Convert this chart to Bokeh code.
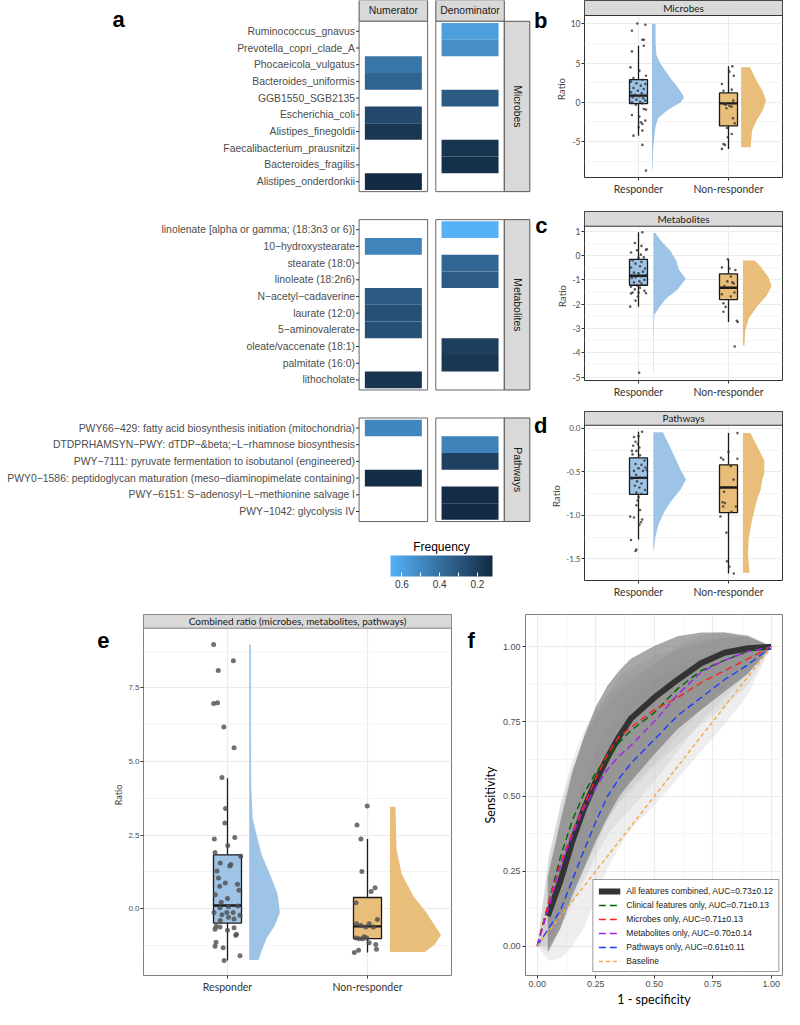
import numpy as np
from bokeh.plotting import figure
from bokeh.models import (Range1d, FixedTicker, ColorBar, LinearColorMapper,
                          CustomJSTickFormatter, Legend, LegendItem, ColumnDataSource,
                          PrintfTickFormatter)
from bokeh.layouts import row, column
from bokeh.core.properties import value
from bokeh.embed import file_html
from bokeh.resources import INLINE

# ---------------- Panel a data (frequency of features, None = absent)
microbes = ["Ruminococcus_gnavus", "Prevotella_copri_clade_A", "Phocaeicola_vulgatus",
            "Bacteroides_uniformis", "GGB1550_SGB2135", "Escherichia_coli",
            "Alistipes_finegoldii", "Faecalibacterium_prausnitzii", "Bacteroides_fragilis",
            "Alistipes_onderdonkii"]
microbes_num = [None, None, 0.42, 0.35, None, 0.24, 0.17, None, None, 0.12]
microbes_den = [0.58, 0.52, None, None, 0.31, None, None, 0.16, 0.14, None]

metabolites = ["linolenate [alpha or gamma; (18:3n3 or 6)]", "10\u2212hydroxystearate",
               "stearate (18:0)", "linoleate (18:2n6)", "N\u2212acetyl\u2212cadaverine",
               "laurate (12:0)", "5\u2212aminovalerate", "oleate/vaccenate (18:1)",
               "palmitate (16:0)", "lithocholate"]
metabolites_num = [None, 0.48, None, None, 0.31, 0.27, 0.27, None, None, 0.16]
metabolites_den = [0.66, None, 0.36, 0.32, None, None, None, 0.20, 0.17, None]

pathways = ["PWY66\u2212429: fatty acid biosynthesis initiation (mitochondria)",
            "DTDPRHAMSYN\u2212PWY: dTDP\u2212&beta;\u2212L\u2212rhamnose biosynthesis",
            "PWY\u22127111: pyruvate fermentation to isobutanol (engineered)",
            "PWY0\u22121586: peptidoglycan maturation (meso\u2212diaminopimelate containing)",
            "PWY\u22126151: S\u2212adenosyl\u2212L\u2212methionine salvage I",
            "PWY\u22121042: glycolysis IV"]
pathways_num = [0.49, None, None, 0.13, None, None]
pathways_den = [None, 0.47, 0.21, None, 0.13, 0.12]

freq_ticks = [0.6, 0.5, 0.4, 0.3, 0.2]
freq_low, freq_high = 0.12, 0.66

# ---------------- Raincloud data
categories = ["Responder", "Non-responder"]

b_resp_vals = [10.04, 9.87, 9.11, 7.97, 7.97, 7.20, 6.48, 4.45, 4.03, 3.39, 3.09, 2.88, 2.63, 2.42,
               2.33, 2.12, 1.82, 1.69, 1.48, 1.27, 1.14, 0.97, 0.93, 0.76, 0.64, 0.51, 0.34, 0.21,
               0.08, 0.0, -0.13, -0.30, -0.85, -0.93, -1.61, -1.82, -2.33, -2.54, -2.75, -3.18,
               -3.60, -4.24, -5.42, -8.69]
b_resp_jit = [-0.013, 0.076, -0.073, 0.043, 0.059, 0.059, -0.073, -0.089, 0.010, 0.083, -0.056,
              0.043, -0.083, -0.023, 0.076, 0.026, -0.056, 0.059, -0.007, -0.083, 0.036, -0.040,
              0.092, 0.010, -0.063, 0.053, -0.023, 0.076, 0.017, -0.073, 0.043, -0.030, 0.059,
              0.083, -0.073, 0.010, 0.076, 0.026, 0.043, 0.003, 0.043, -0.056, 0.043, 0.083]
b_non_vals = [4.58, 3.90, 3.39, 2.33, 1.61, 1.48, 0.21, -0.21, -0.30, -0.47, -0.55, -0.76, -2.03,
              -2.67, -3.26, -4.03, -4.45, -5.30, -5.42, -5.93]
b_non_jit = [0.043, 0.010, 0.059, -0.073, 0.036, -0.056, 0.053, -0.050, -0.030, 0.010, 0.033,
             -0.023, 0.050, 0.069, -0.017, 0.036, -0.007, -0.056, -0.040, -0.073]
b_resp_box = [-4.24, -0.17, 0.85, 2.88, 7.20]
b_non_box = [-5.93, -3.00, -0.13, 1.20, 4.58]
b_resp_vy = [10.0, 7.5, 6.0, 5.0, 4.0, 3.0, 2.0, 1.0, 0.6, 0.0, -1.0, -2.0, -3.0, -4.0, -6.0, -8.7]
b_resp_vw = [0.04, 0.04, 0.05, 0.09, 0.15, 0.21, 0.28, 0.34, 0.355, 0.32, 0.17, 0.07, 0.04, 0.03,
             0.012, 0.005]
b_non_vy = [4.45, 2.75, 1.48, 0.21, -1.06, -2.33, -3.6, -4.87, -5.72]
b_non_vw = [0.099, 0.172, 0.238, 0.277, 0.238, 0.172, 0.122, 0.112, 0.106]

c_resp_vals = [0.96, 0.52, 0.40, 0.24, 0.26, 0.13, 0.22, 0.04, -0.07, -0.09, -0.20, -0.26, -0.33,
               -0.44, -0.49, -0.53, -0.66, -0.70, -0.73, -0.79, -0.86, -0.89, -0.92, -0.99, -1.06,
               -1.10, -1.15, -1.23, -1.28, -1.32, -1.39, -1.45, -1.52, -1.52, -1.56, -1.55, -1.68,
               -1.85, -2.10, -4.82]
c_resp_jit = [0.043, -0.040, 0.033, 0.083, 0.092, -0.083, -0.017, 0.026, 0.059, 0.0, -0.066,
              0.033, -0.033, 0.017, -0.083, 0.073, 0.050, -0.050, 0.0, 0.092, 0.033, -0.033,
              -0.073, 0.066, 0.010, -0.050, 0.033, -0.017, -0.083, 0.017, -0.040, 0.066, -0.066,
              0.0, -0.083, 0.083, -0.007, -0.033, -0.092, 0.007]
c_non_vals = [-0.15, -0.49, -0.53, -0.59, -0.86, -1.06, -1.10, -1.15, -1.25, -1.32, -1.52, -1.59,
              -1.68, -1.96, -2.11, -2.31, -2.68, -2.73, -3.74]
c_non_jit = [-0.007, -0.073, 0.010, 0.076, 0.026, -0.013, 0.043, 0.059, -0.046, 0.020, 0.066,
             -0.073, 0.026, -0.056, -0.033, -0.056, 0.092, 0.102, 0.069]
c_resp_box = [-2.10, -1.22, -0.83, -0.15, 0.96]
c_non_box = [-2.73, -1.81, -1.32, -0.75, -0.15]
c_resp_vy = [0.93, 0.59, 0.2, -0.2, -0.59, -0.95, -1.39, -1.78, -2.18, -2.44, -3.5, -4.85]
c_resp_vw = [0.023, 0.089, 0.188, 0.254, 0.287, 0.36, 0.27, 0.139, 0.056, 0.01, 0.004, 0.004]
c_non_vy = [-0.2, -0.46, -0.86, -1.25, -1.65, -2.05, -2.58, -3.1, -3.7]
c_non_vw = [0.132, 0.198, 0.28, 0.32, 0.264, 0.165, 0.066, 0.026, 0.017]

d_resp_vals = [-0.04, -0.09, -0.10, -0.155, -0.18, -0.20, -0.22, -0.26, -0.26, -0.30, -0.31, -0.37,
               -0.41, -0.42, -0.45, -0.46, -0.49, -0.49, -0.48, -0.535, -0.565, -0.57, -0.58,
               -0.61, -0.635, -0.66, -0.68, -0.71, -0.74, -0.755, -0.79, -0.83, -0.885, -0.94,
               -1.015, -1.025, -1.05, -1.08, -1.11, -1.285, -1.395, -1.41]
d_resp_jit = [0.040, 0.0, -0.050, -0.033, -0.007, -0.059, 0.010, -0.073, -0.023, -0.066, 0.017,
              0.066, -0.033, 0.033, 0.076, 0.0, -0.050, 0.050, 0.092, -0.026, 0.017, 0.066, -0.073,
              -0.017, 0.033, -0.040, 0.010, 0.073, -0.023, 0.033, 0.0, -0.010, -0.023, 0.017,
              -0.092, -0.050, 0.040, 0.026, 0.010, -0.083, -0.023, -0.033]
d_non_vals = [-0.055, -0.27, -0.34, -0.36, -0.35, -0.435, -0.59, -0.73, -0.85, -0.86, -0.90, -0.90,
              -0.96, -1.015, -1.20, -1.53, -1.59, -1.67]
d_non_jit = [0.099, 0.0, -0.083, -0.059, 0.099, 0.026, 0.056, -0.050, -0.066, -0.040, -0.059,
             0.083, 0.033, -0.089, -0.023, -0.017, 0.010, 0.059]
d_resp_box = [-1.28, -0.76, -0.57, -0.34, -0.04]
d_non_box = [-1.67, -0.97, -0.68, -0.42, -0.055]
d_resp_vy = [-0.044, -0.185, -0.33, -0.48, -0.59, -0.7, -0.85, -0.96, -1.11, -1.25, -1.4]
d_resp_vw = [0.106, 0.172, 0.238, 0.304, 0.363, 0.304, 0.188, 0.122, 0.056, 0.023, 0.007]
d_non_vy = [-0.055, -0.22, -0.37, -0.52, -0.59, -0.7, -0.85, -1.07, -1.25, -1.44, -1.66]
d_non_vw = [0.083, 0.165, 0.238, 0.238, 0.215, 0.198, 0.149, 0.099, 0.066, 0.056, 0.073]

e_resp_vals = [8.98, 8.42, 8.09, 6.97, 7.00, 6.17, 5.47, 4.46, 3.40, 2.91, 2.37, 2.42, 2.15, 1.91,
               1.78, 1.55, 1.50, 1.45, 1.28, 1.04, 0.87, 0.83, 0.76, 0.63, 0.47, 0.35, 0.22, 0.03,
               0.07, 0.09, -0.13, -0.13, -0.13, -0.29, -0.21, -0.22, -0.40, -0.35, -0.60, -0.62,
               -0.70, -0.65, -0.73, -0.87, -0.91, -1.14, -1.28, -1.33, -1.60, -1.76]
e_resp_jit = [-0.099, 0.042, -0.066, -0.099, -0.071, -0.026, 0.047, -0.040, -0.014, -0.019,
              -0.094, 0.052, 0.002, -0.089, 0.094, -0.052, 0.024, 0.016, -0.075, -0.064, -0.016,
              0.071, -0.056, 0.082, -0.087, 0.0, -0.045, -0.054, 0.007, 0.073, -0.096, -0.005,
              0.040, 0.007, -0.040, 0.089, -0.052, 0.047, -0.082, -0.054, -0.089, 0.047, 0.0,
              0.064, 0.059, -0.082, -0.089, -0.031, 0.089, -0.024]
e_non_vals = [3.49, 2.84, 2.37, 1.26, 0.71, 0.58, 0.20, -0.37, -0.51, -0.57, -0.51, -0.62, -0.62,
              -0.95, -1.00, -1.02, -1.02, -1.00, -1.16, -1.22, -1.38, -1.41, -1.49]
e_non_jit = [-0.002, -0.075, -0.047, -0.040, 0.054, 0.026, -0.082, 0.071, -0.078, -0.047, 0.012,
             -0.012, 0.042, -0.024, -0.005, -0.035, -0.059, -0.082, 0.012, 0.059, 0.064, -0.064,
             -0.094]
e_resp_box = [-1.76, -0.49, 0.11, 1.83, 4.43]
e_non_box = [-1.49, -1.02, -0.60, 0.38, 2.37]
e_resp_vy = [8.97, 6.0, 4.2, 3.1, 2.48, 1.83, 1.17, 0.52, -0.13, -0.57, -1.0, -1.43, -1.74]
e_resp_vw = [0.012, 0.012, 0.014, 0.024, 0.054, 0.089, 0.148, 0.202, 0.219, 0.183, 0.125, 0.089,
             0.066]
e_non_vy = [3.46, 2.04, 1.17, 0.41, -0.13, -0.89, -1.22, -1.47]
e_non_vw = [0.04, 0.047, 0.085, 0.17, 0.26, 0.365, 0.32, 0.25]

# ---------------- Panel f data (ROC curves)
fpr = [0, 0.05, 0.1, 0.15, 0.2, 0.25, 0.3, 0.35, 0.4, 0.5, 0.6, 0.7, 0.8, 0.9, 1.0]
comb_x = [0.045, 0.1, 0.15, 0.2, 0.25, 0.3, 0.35, 0.4, 0.5, 0.6, 0.7, 0.8, 0.9, 1.0]
comb_y = [0.10, 0.22, 0.35, 0.46, 0.55, 0.63, 0.70, 0.76, 0.83, 0.89, 0.945, 0.98, 0.995, 1.0]
comb_lo = [-0.02, 0.06, 0.17, 0.26, 0.35, 0.43, 0.50, 0.55, 0.64, 0.725, 0.79, 0.85, 0.91, 1.0]
comb_hi = [0.23, 0.42, 0.58, 0.70, 0.80, 0.87, 0.92, 0.96, 1.003, 1.035, 1.048, 1.048, 1.035, 1.003]
clin_y = [0, 0.15, 0.30, 0.42, 0.51, 0.58, 0.63, 0.68, 0.72, 0.78, 0.86, 0.92, 0.955, 0.985, 1.0]
clin_lo = [0, 0.0, 0.1, 0.2, 0.28, 0.35, 0.42, 0.48, 0.53, 0.61, 0.70, 0.79, 0.86, 0.93, 1.0]
clin_hi = [0, 0.3, 0.48, 0.62, 0.72, 0.79, 0.84, 0.87, 0.9, 0.94, 0.99, 1.02, 1.03, 1.03, 1.0]
micro_y = [0, 0.15, 0.28, 0.38, 0.47, 0.56, 0.64, 0.70, 0.73, 0.79, 0.83, 0.88, 0.92, 0.96, 1.0]
micro_lo = [0, 0.0, 0.08, 0.16, 0.25, 0.33, 0.42, 0.48, 0.52, 0.60, 0.67, 0.74, 0.80, 0.87, 1.0]
micro_hi = [0, 0.3, 0.47, 0.6, 0.69, 0.77, 0.84, 0.9, 0.93, 0.97, 0.99, 1.01, 1.03, 1.04, 1.0]
metab_y = [0, 0.13, 0.27, 0.37, 0.46, 0.53, 0.59, 0.635, 0.67, 0.75, 0.84, 0.915, 0.955, 0.985, 1.0]
metab_lo = [0, -0.02, 0.06, 0.14, 0.22, 0.3, 0.37, 0.42, 0.46, 0.55, 0.65, 0.75, 0.83, 0.91, 1.0]
metab_hi = [0, 0.28, 0.46, 0.59, 0.69, 0.76, 0.81, 0.85, 0.88, 0.94, 1.0, 1.04, 1.05, 1.04, 1.0]
path_y = [0, 0.06, 0.12, 0.22, 0.32, 0.415, 0.50, 0.56, 0.61, 0.69, 0.77, 0.83, 0.89, 0.94, 1.0]
path_lo = [0, -0.05, -0.04, 0.0, 0.06, 0.16, 0.26, 0.33, 0.39, 0.47, 0.56, 0.65, 0.74, 0.84, 1.0]
path_hi = [0, 0.17, 0.28, 0.42, 0.55, 0.65, 0.73, 0.78, 0.83, 0.89, 0.94, 0.97, 0.99, 1.0, 1.0]
base_x = [0, 1]
base_y = [0, 1]
roc_labels = ["All features combined, AUC=0.73\u00b10.12", "Clinical features only, AUC=0.71\u00b10.13",
              "Microbes only, AUC=0.71\u00b10.13", "Metabolites only, AUC=0.70\u00b10.14",
              "Pathways only, AUC=0.61\u00b10.11", "Baseline"]

# ======================================================================
LIB = "Liberation Sans"
HUM = "Lato"


def bare_figure(width, height):
    p = figure(width=width, height=height, x_range=Range1d(0, width),
               y_range=Range1d(height, 0), output_backend="svg", toolbar_location=None,
               min_border=0, x_axis_location=None, y_axis_location=None)
    p.outline_line_color = None
    p.background_fill_color = None
    p.border_fill_color = None
    p.grid.grid_line_color = None
    p.xgrid.visible = False
    p.ygrid.visible = False
    return p


def add_letter(p, x, y, letter, align="left"):
    p.text(x=[x], y=[y], text=[letter], text_font=value(LIB), text_font_size=value("22px"),
           text_font_style="bold", text_baseline="alphabetic", text_align=align,
           text_color="black")


# ---------------- Panel a: heatmap
def hex2rgb(h):
    return tuple(int(h[i:i + 2], 16) for i in (1, 3, 5))

light, dark = hex2rgb("#56B1F7"), hex2rgb("#132B43")
palette = ["#%02x%02x%02x" % tuple(int(round(l + (d - l) * t)) for l, d in zip(light, dark))
           for t in np.linspace(0, 1, 256)]
mapper = LinearColorMapper(palette=palette, low=-freq_high, high=-freq_low)

pa = figure(width=548, height=600, x_range=Range1d(0, 548), y_range=Range1d(602, 2),
            output_backend="svg", toolbar_location=None, min_border=0,
            x_axis_location=None, y_axis_location=None)
pa.outline_line_color = None
pa.background_fill_color = None
pa.border_fill_color = None
pa.grid.grid_line_color = None
pa.xgrid.visible = False
pa.ygrid.visible = False

ROW_H = 16.7
EXPAND = 0.6
GAP = 28.0
TOP0 = 22.8
NUM_X = (358.6, 427.1)
DEN_X = (435.3, 503.8)
STRIP_X = (503.8, 529.3)
TILE_W = 57.0
LABEL_X = 354.5

groups = [("Microbes", microbes, microbes_num, microbes_den),
          ("Metabolites", metabolites, metabolites_num, metabolites_den),
          ("Pathways", pathways, pathways_num, pathways_den)]

tile = dict(x=[], y=[], neg=[])
lab = dict(x=[], y=[], text=[])
panels = dict(left=[], right=[], top=[], bottom=[])
strips = dict(left=[], right=[], top=[], bottom=[], cx=[], cy=[], text=[])
top = TOP0
num_c = (NUM_X[0] + NUM_X[1]) / 2
den_c = (DEN_X[0] + DEN_X[1]) / 2
for gname, names, nvals, dvals in groups:
    n = len(names)
    bottom = top + (n - 1 + 2 * EXPAND) * ROW_H
    for i, (nm, nv, dv) in enumerate(zip(names, nvals, dvals)):
        yy = top + (EXPAND + i) * ROW_H
        lab["x"].append(LABEL_X); lab["y"].append(yy); lab["text"].append(nm)
        if nv is not None:
            tile["x"].append(num_c); tile["y"].append(yy); tile["neg"].append(-nv)
        if dv is not None:
            tile["x"].append(den_c); tile["y"].append(yy); tile["neg"].append(-dv)
    for (l, r) in (NUM_X, DEN_X):
        panels["left"].append(l); panels["right"].append(r)
        panels["top"].append(top); panels["bottom"].append(bottom)
    strips["left"].append(STRIP_X[0]); strips["right"].append(STRIP_X[1])
    strips["top"].append(top); strips["bottom"].append(bottom)
    strips["cx"].append((STRIP_X[0] + STRIP_X[1]) / 2); strips["cy"].append((top + bottom) / 2)
    strips["text"].append(gname)
    top = bottom + GAP

hdr = dict(left=[NUM_X[0], DEN_X[0]], right=[NUM_X[1], DEN_X[1]], top=[1.7, 1.7],
           bottom=[TOP0, TOP0], cx=[num_c, den_c], cy=[(1.7 + TOP0) / 2] * 2,
           text=["Numerator", "Denominator"])
pa.quad(left="left", right="right", top="top", bottom="bottom", source=ColumnDataSource(hdr),
        fill_color="#D9D9D9", line_color="#555555", line_width=1)
pa.text(x="cx", y="cy", text="text", source=ColumnDataSource(hdr), text_align="center",
        text_baseline="middle", text_font=value(LIB), text_font_size=value("10.4px"),
        text_color="#1a1a1a")

pa.quad(left="left", right="right", top="top", bottom="bottom", source=ColumnDataSource(panels),
        fill_color="white", line_color="#666666", line_width=1)
pa.rect(x="x", y="y", width=TILE_W, height=ROW_H, source=ColumnDataSource(tile),
        fill_color={"field": "neg", "transform": mapper}, line_color=None)
pa.quad(left="left", right="right", top="top", bottom="bottom", source=ColumnDataSource(strips),
        fill_color="#D9D9D9", line_color="#555555", line_width=1)
pa.text(x="cx", y="cy", text="text", source=ColumnDataSource(strips), angle=-np.pi / 2,
        text_align="center", text_baseline="middle", text_font=value(LIB),
        text_font_size=value("10.4px"), text_color="#1a1a1a")
labsrc = ColumnDataSource(lab)
pa.text(x="x", y="y", text="text", source=labsrc, text_align="right", text_baseline="middle",
        text_font=value(LIB), text_font_size=value("10.4px"), text_color="#4d4d4d")
pa.segment(x0=[LABEL_X + 1.0] * len(lab["y"]), x1=[NUM_X[0]] * len(lab["y"]), y0=lab["y"],
           y1=lab["y"], line_color="#333333", line_width=1)
add_letter(pa, 112, 21, "a")
# panel letters of the right-hand column (b, c, d) sit just left of those panels
add_letter(pa, 547, 22, "b", align="right")
add_letter(pa, 547, 227, "c", align="right")
add_letter(pa, 547, 427, "d", align="right")
pa.text(x=[441], y=[548], text=["Frequency"], text_align="center", text_baseline="middle",
        text_font=value(LIB), text_font_size=value("12px"), text_color="black")

cbar = ColorBar(color_mapper=mapper, orientation="horizontal", width=102, height=21,
                location=(390, 10), padding=0, label_standoff=3,
                ticker=FixedTicker(ticks=[-t for t in freq_ticks]),
                formatter=CustomJSTickFormatter(code="return Math.abs(tick).toFixed(1)"),
                major_label_text_font=LIB, major_label_text_font_size="10px",
                major_label_text_color="#333333", major_tick_line_color="white",
                major_tick_in=4, major_tick_out=0, minor_tick_line_color=None,
                bar_line_color=None, background_fill_color=None, border_line_color=None)
pa.add_layout(cbar)


# ---------------- raincloud panels
BLUE_V, BLUE_B = "#9DC3E6", "#93BCE2"
ORNG_V, ORNG_B = "#E9BE7B", "#E7B76C"


def raincloud(width, height, mbl, mbr, mbt, mbb, strip_px, ylo, yhi, ticks, minor, fmt, title,
              data, pt_size, pt_color, ytick_font, ytick_size, ylab_size, border):
    frame_h = height - mbt - mbb
    plot_h = frame_h - strip_px
    ytop = yhi + strip_px * (yhi - ylo) / plot_h
    p = figure(width=width, height=height, x_range=Range1d(0.4, 2.6),
               y_range=Range1d(ylo, ytop), min_border_left=mbl, min_border_right=mbr,
               min_border_top=mbt, min_border_bottom=mbb, output_backend="svg",
               toolbar_location=None)
    p.outline_line_color = border
    p.outline_line_width = 1
    p.xgrid.grid_line_color = "#EBEBEB"
    p.xgrid.grid_line_width = 1.2
    p.ygrid.grid_line_color = "#EBEBEB"
    p.ygrid.grid_line_width = 1.2
    p.ygrid.minor_grid_line_color = "#F3F3F3"
    p.ygrid.minor_grid_line_width = 0.8
    for c, vals, jit, box, vy, vw, voff, vcol, bcol in data:
        xs = [c + voff] + [c + voff + w for w in vw] + [c + voff]
        ys = [vy[0]] + list(vy) + [vy[-1]]
        p.patch(xs, ys, fill_color=vcol, line_color=None)
        lo, q1, med, q3, hi = box
        p.segment(x0=[c, c], x1=[c, c], y0=[lo, q3], y1=[q1, hi], line_color="#1a1a1a",
                  line_width=1.3)
        p.quad(left=[c - 0.1], right=[c + 0.1], bottom=[q1], top=[q3], fill_color=bcol,
               fill_alpha=0.9, line_color="#1a1a1a", line_width=1.3)
        p.segment(x0=[c - 0.1], x1=[c + 0.1], y0=[med], y1=[med], line_color="#1a1a1a",
                  line_width=2.4)
        p.scatter(x=[c + j for j in jit], y=vals, size=pt_size, marker="circle",
                  fill_color=pt_color, line_color=None, fill_alpha=0.8)
    p.quad(left=[0.4], right=[2.6], bottom=[yhi], top=[ytop], fill_color="#D9D9D9",
           line_color=border, line_width=1)
    p.text(x=[1.5], y=[(yhi + ytop) / 2], text=[title], text_align="center",
           text_baseline="middle", text_font=value(HUM), text_font_size=value("10px"),
           text_color="#1a1a1a")
    p.xaxis.ticker = FixedTicker(ticks=[1, 2])
    p.xaxis.major_label_overrides = {1: categories[0], 2: categories[1]}
    p.xaxis.major_label_text_font = HUM
    p.xaxis.major_label_text_font_size = "10.5px"
    p.xaxis.major_label_text_color = "#333333"
    p.xaxis.major_label_standoff = 2
    p.yaxis.ticker = FixedTicker(ticks=ticks, minor_ticks=minor)
    p.yaxis.formatter = PrintfTickFormatter(format=fmt)
    p.yaxis.major_label_text_font = ytick_font
    p.yaxis.major_label_text_font_size = ytick_size
    p.yaxis.major_label_text_color = "#4d4d4d"
    p.yaxis.major_label_standoff = 1
    p.yaxis.axis_label = "Ratio"
    p.yaxis.axis_label_text_font = HUM
    p.yaxis.axis_label_text_font_style = "normal"
    p.yaxis.axis_label_text_font_size = ylab_size
    p.yaxis.axis_label_standoff = 1
    for ax in (p.xaxis, p.yaxis):
        ax.axis_line_color = None
        ax.major_tick_line_color = "#333333"
        ax.major_tick_out = 3
        ax.major_tick_in = 0
        ax.minor_tick_out = 0
        ax.minor_tick_in = 0
    return p


def grp(vals, jit, box, vy, vw, voff, which):
    c = 1 if which == 0 else 2
    vcol, bcol = (BLUE_V, BLUE_B) if which == 0 else (ORNG_V, ORNG_B)
    return (c, vals, jit, box, vy, vw, voff, vcol, bcol)


RW = 236
pb = raincloud(RW, 200, 30, 2, 0, 23, 15, -9.57, 11.05, [-5, 0, 5, 10], [-7.5, -2.5, 2.5, 7.5],
               "%d", "Microbes",
               [grp(b_resp_vals, b_resp_jit, b_resp_box, b_resp_vy, b_resp_vw, 0.15, 0),
                grp(b_non_vals, b_non_jit, b_non_box, b_non_vy, b_non_vw, 0.14, 1)],
               2.6, "#333333", HUM, "8.5px", "9.5px", "#333333")
pc = raincloud(RW, 200, 30, 2, 11, 17, 15, -5.14, 1.21, [-5, -4, -3, -2, -1, 0, 1],
               [-4.5, -3.5, -2.5, -1.5, -0.5, 0.5], "%d", "Metabolites",
               [grp(c_resp_vals, c_resp_jit, c_resp_box, c_resp_vy, c_resp_vw, 0.165, 0),
                grp(c_non_vals, c_non_jit, c_non_box, c_non_vy, c_non_vw, 0.16, 1)],
               2.6, "#333333", HUM, "8.5px", "9.5px", "#333333")
pd_ = raincloud(RW, 200, 30, 2, 11, 17, 14, -1.75, 0.035, [-1.5, -1.0, -0.5, 0.0],
                [-1.25, -0.75, -0.25], "%.1f", "Pathways",
                [grp(d_resp_vals, d_resp_jit, d_resp_box, d_resp_vy, d_resp_vw, 0.165, 0),
                 grp(d_non_vals, d_non_jit, d_non_box, d_non_vy, d_non_vw, 0.16, 1)],
                2.6, "#333333", HUM, "8px", "9.5px", "#333333")

le = bare_figure(110, 409)
add_letter(le, 109, 30, "e", align="right")
pe = raincloud(347, 409, 30, 6, 13, 27, 14, -2.27, 9.53, [0, 2.5, 5, 7.5],
               [-1.25, 1.25, 3.75, 6.25, 8.75], "%.1f",
               "Combined ratio (microbes, metabolites, pathways)",
               [grp(e_resp_vals, e_resp_jit, e_resp_box, e_resp_vy, e_resp_vw, 0.155, 0),
                grp(e_non_vals, e_non_jit, e_non_box, e_non_vy, e_non_vw, 0.16, 1)],
               5.0, "#4d4d4d", LIB, "8px", "9px", "#7f7f7f")

# ---------------- Panel f: ROC
lf = bare_figure(22, 409)
add_letter(lf, 10, 29, "f")
pf = figure(width=305, height=409, x_range=Range1d(-0.05, 1.048), y_range=Range1d(-0.0985, 1.108),
            min_border_left=40, min_border_right=2, min_border_top=14, min_border_bottom=27,
            output_backend="svg", toolbar_location=None)
pf.outline_line_color = "#7f7f7f"
for g in (pf.xgrid, pf.ygrid):
    g.grid_line_color = "#EBEBEB"
    g.grid_line_width = 1.2
    g.minor_grid_line_color = "#F3F3F3"
    g.minor_grid_line_width = 0.8
for lo_, hi_ in ((clin_lo, clin_hi), (micro_lo, micro_hi), (metab_lo, metab_hi), (path_lo, path_hi)):
    pf.varea(x=fpr, y1=lo_, y2=hi_, fill_color="#bdbdbd", fill_alpha=0.25)
pf.varea(x=comb_x, y1=comb_lo, y2=comb_hi, fill_color="#6e6e6e", fill_alpha=0.6)
r_comb = pf.line(comb_x, comb_y, line_color="#333333", line_width=6)
r_clin = pf.line(fpr, clin_y, line_color="#006400", line_width=1.4, line_dash="7 4")
r_micro = pf.line(fpr, micro_y, line_color="#FF2020", line_width=1.4, line_dash="7 4")
r_metab = pf.line(fpr, metab_y, line_color="#A020F0", line_width=1.4, line_dash="7 4")
r_path = pf.line(fpr, path_y, line_color="#1E3CFF", line_width=1.4, line_dash="7 4")
r_base = pf.line(base_x, base_y, line_color="#F5A742", line_width=1.4, line_dash="4 3")
legend = Legend(items=[LegendItem(label=l, renderers=[r]) for l, r in
                       zip(roc_labels, [r_comb, r_clin, r_micro, r_metab, r_path, r_base])],
                location="bottom_right", margin=3, padding=5, spacing=3, label_height=11,
                glyph_width=22, glyph_height=10, label_standoff=6,
                label_text_font=LIB, label_text_font_size="8.5px",
                label_text_color="#1a1a1a", border_line_color="#333333",
                background_fill_alpha=1.0)
pf.add_layout(legend)
for ax in (pf.xaxis, pf.yaxis):
    ax.ticker = FixedTicker(ticks=[0, 0.25, 0.5, 0.75, 1.0],
                            minor_ticks=[0.125, 0.375, 0.625, 0.875])
    ax.formatter = PrintfTickFormatter(format="%.2f")
    ax.major_label_text_font = LIB
    ax.major_label_text_font_size = "9px"
    ax.major_label_text_color = "#4d4d4d"
    ax.major_label_standoff = 2
    ax.axis_line_color = None
    ax.major_tick_line_color = "#333333"
    ax.major_tick_out = 3
    ax.major_tick_in = 0
    ax.minor_tick_out = 0
    ax.minor_tick_in = 0
    ax.axis_label_text_font = HUM
    ax.axis_label_text_font_style = "normal"
    ax.axis_label_text_font_size = "12.5px"
    ax.axis_label_text_color = "black"
    ax.axis_label_standoff = 2
pf.xaxis.axis_label = "1 - specificity"
pf.yaxis.axis_label = "Sensitivity"

layout = column(row(pa, column(pb, pc, pd_)), row(le, pe, lf, pf))
open("out.html", "w").write(file_html(layout, INLINE))
